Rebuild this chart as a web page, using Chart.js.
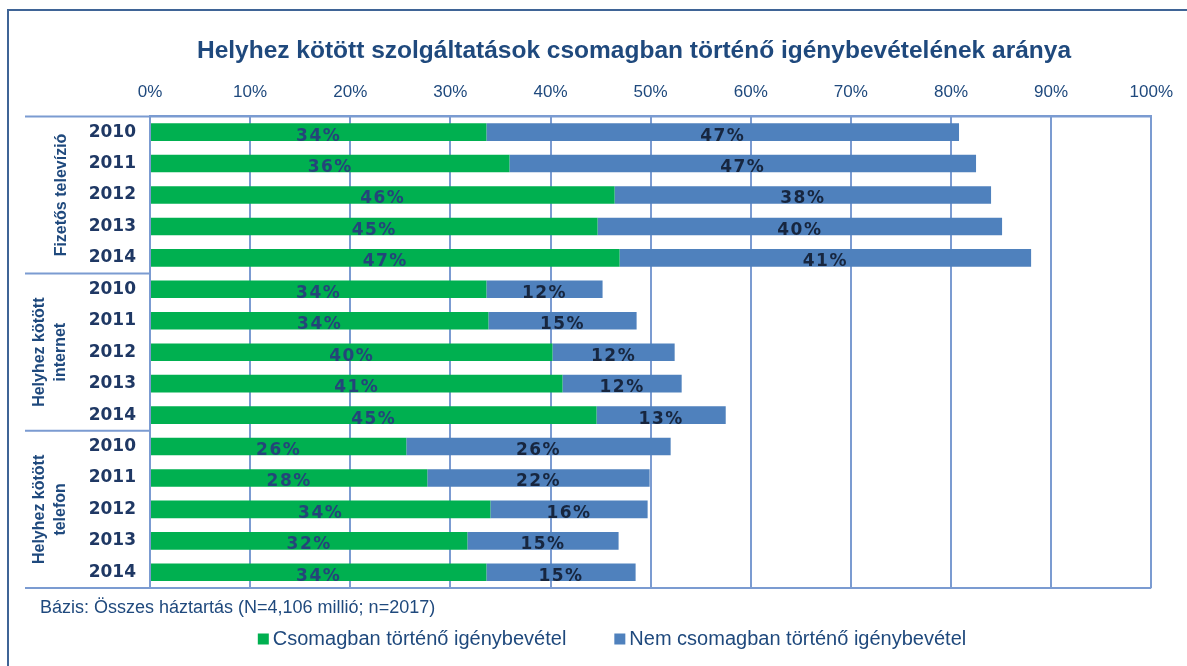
<!DOCTYPE html>
<html>
<head>
<meta charset="utf-8">
<script src="https://cdn.jsdelivr.net/npm/chart.js@4.4.1/dist/chart.umd.min.js"></script>
<style>
  html, body { margin: 0; padding: 0; background: #fff; }
  #wrap { width: 1187px; height: 666px; position: relative; }
</style>
</head>
<body>
<div id="wrap"><canvas id="chart"></canvas></div>
<script>
// values (percent)
const years = ['2010', '2011', '2012', '2013', '2014'];
const categories = [...years, ...years, ...years];
const groups = [['Fizetős televízió'], ['Helyhez kötött', 'internet'], ['Helyhez kötött', 'telefon']];
const bundled = [33.6, 35.9, 46.4, 44.7, 46.9, 33.6, 33.8, 40.2, 41.2, 44.6, 25.6, 27.7, 34.0, 31.7, 33.6];
const separate = [47.2, 46.6, 37.6, 40.4, 41.1, 11.6, 14.8, 12.2, 11.9, 12.9, 26.4, 22.2, 15.7, 15.1, 14.9];
const seriesNames = ['Csomagban történő igénybevétel', 'Nem csomagban történő igénybevétel'];
const footnote = 'Bázis: Összes háztartás (N=4,106 millió; n=2017)';

const NAVY = '#1F497D';
const GRID = '#7B9BD1';
const FRAME = '#3F6496';

// shift the title a bit to the right, like the original
const titleShift = {
  id: 'titleShift',
  afterLayout(chart) {
    const t = chart.titleBlock;
    if (t) { t.left = 116; t.width = t.right - t.left; }
  }
};

// frame, group labels, data labels, footnote and legend
const extras = {
  id: 'extras',
  afterDraw(chart) {
    const { ctx, chartArea: a, scales } = chart;
    const y = scales.y;
    ctx.save();

    // outer frame (top and left edges only)
    ctx.strokeStyle = FRAME;
    ctx.lineWidth = 2;
    ctx.beginPath();
    ctx.moveTo(8, 666); ctx.lineTo(8, 10); ctx.lineTo(1187, 10);
    ctx.stroke();

    // group separators on the left + top/bottom plot lines
    ctx.strokeStyle = GRID;
    ctx.lineWidth = 2;
    const step = y.getPixelForValue(1) - y.getPixelForValue(0);
    ctx.beginPath();
    ctx.moveTo(25, a.top); ctx.lineTo(a.right, a.top);
    ctx.moveTo(25, a.bottom); ctx.lineTo(a.right, a.bottom);
    for (let g = 1; g < groups.length; g++) {
      const yy = y.getPixelForValue(g * 5) - step / 2;
      ctx.moveTo(25, yy); ctx.lineTo(a.left, yy);
    }
    ctx.stroke();

    // rotated group names
    ctx.fillStyle = NAVY;
    ctx.font = 'bold 16px "Liberation Sans", Arial, sans-serif';
    ctx.textAlign = 'center';
    ctx.textBaseline = 'middle';
    groups.forEach((lines, g) => {
      const top = y.getPixelForValue(g * 5) - step / 2;
      const bot = y.getPixelForValue(g * 5 + 4) + step / 2;
      const cy = (top + bot) / 2;
      ctx.save();
      ctx.translate(a.left - 100, cy);
      ctx.rotate(-Math.PI / 2);
      const lh = 21;
      lines.forEach((t, i) => {
        ctx.fillText(t, 0, (i - (lines.length - 1) / 2) * lh + (lines.length === 1 ? 12 : 0));
      });
      ctx.restore();
    });

    // data labels centred on each segment
    ctx.font = 'bold 17px "DejaVu Sans", sans-serif';
    ctx.letterSpacing = '1.5px';
    const labelColors = ['#24457A', '#17263F'];
    chart.data.datasets.forEach((ds, di) => {
      const meta = chart.getDatasetMeta(di);
      meta.data.forEach((bar, i) => {
        const p = bar.getProps(['x', 'y', 'base'], true);
        ctx.fillStyle = labelColors[di];
        ctx.fillText(Math.round(ds.data[i]) + '%', (p.x + p.base) / 2, p.y + 4);
      });
    });
    ctx.letterSpacing = '0px';

    // footnote
    ctx.fillStyle = NAVY;
    ctx.font = '18px "Liberation Sans", Arial, sans-serif';
    ctx.textAlign = 'left';
    ctx.fillText(footnote, 40, a.bottom + 20);

    // legend
    ctx.font = '20px "Liberation Sans", Arial, sans-serif';
    const box = 11, gap = 48, tg = 4;
    const w = seriesNames.map(t => ctx.measureText(t).width);
    const total = box + tg + w[0] + gap + box + tg + w[1];
    let x = 612 - total / 2;
    const ly = a.bottom + 51;
    chart.data.datasets.forEach((ds, di) => {
      ctx.fillStyle = ds.backgroundColor;
      ctx.fillRect(x, ly - box / 2, box, box);
      x += box + tg;
      ctx.fillStyle = NAVY;
      ctx.fillText(seriesNames[di], x, ly);
      x += w[di] + gap;
    });

    ctx.restore();
  }
};

new Chart(document.getElementById('chart'), {
  type: 'bar',
  data: {
    labels: categories,
    datasets: [
      { label: seriesNames[0], data: bundled, backgroundColor: '#00B050' },
      { label: seriesNames[1], data: separate, backgroundColor: '#4F81BD' }
    ]
  },
  options: {
    indexAxis: 'y',
    responsive: true,
    maintainAspectRatio: false,
    animation: false,
    layout: { padding: { top: 10, left: 0, right: 35, bottom: 78 } },
    datasets: { bar: { categoryPercentage: 1, barPercentage: 0.56, borderWidth: 0 } },
    scales: {
      x: {
        position: 'top',
        stacked: true,
        min: 0,
        max: 100,
        afterFit: s => { s.height = 43; },
        ticks: {
          stepSize: 10,
          padding: 14,
          color: NAVY,
          font: { family: '"Liberation Sans", Arial, sans-serif', size: 17 },
          callback: v => v + '%'
        },
        grid: { color: GRID, lineWidth: 2, drawTicks: false },
        border: { display: true, color: GRID, width: 2 }
      },
      y: {
        stacked: true,
        afterFit: s => { s.width = 150; },
        ticks: {
          padding: 14,
          color: '#1F3864',
          font: { family: '"DejaVu Sans", sans-serif', size: 17, weight: 'bold' }
        },
        grid: { display: false, drawTicks: false },
        border: { display: true, color: GRID, width: 2 }
      }
    },
    plugins: {
      legend: { display: false },
      tooltip: { enabled: false },
      title: {
        display: true,
        text: 'Helyhez kötött szolgáltatások csomagban történő igénybevételének aránya',
        color: NAVY,
        font: { family: '"Liberation Sans", Arial, sans-serif', size: 24.5, weight: 'bold' },
        padding: { top: 27, bottom: 7 }
      }
    }
  },
  plugins: [titleShift, extras]
});
</script>
</body>
</html>
